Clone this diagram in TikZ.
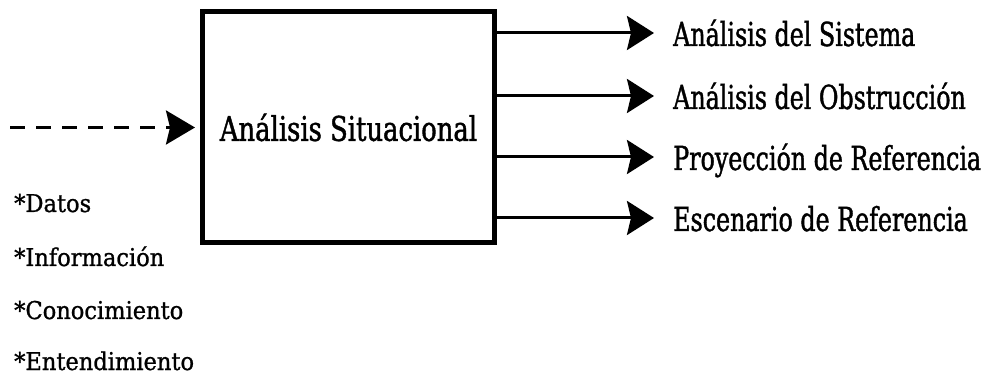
\documentclass[tikz,border=0pt]{standalone}
\usepackage{fontspec}
\setmainfont{DejaVu Serif}[FakeStretch=0.76,FakeBold=1.2]
\newfontfamily\outfont{DejaVu Serif}[FakeStretch=0.72,FakeBold=1.2]
\newfontfamily\infont{DejaVu Serif}[FakeStretch=0.92,FakeBold=1]
\usepackage{tikz}
\usetikzlibrary{arrows.meta}
\usetikzlibrary{positioning}

\begin{document}
\begin{tikzpicture}[x=1pt,y=-1pt,
  flow/.style={line width=3pt,-{Stealth[length=27pt,width=34pt,inset=4pt]}},
  outlabel/.style={anchor=base west,inner sep=0pt,font=\outfont\fontsize{33}{36}\selectfont},
  inlabel/.style={anchor=base west,inner sep=0pt,font=\infont\fontsize{24.5}{27}\selectfont}]
\useasboundingbox (0,0) rectangle (985,379);
% central box
\node[draw,line width=5pt,minimum width=292pt,minimum height=231pt,
  font=\fontsize{34}{36}\selectfont] (situ) at (348.5,127.5) {Análisis Situacional};
% input
\coordinate (inp) at (10,127.5);
\draw[line width=3pt,dash pattern=on 15pt off 11pt,
  -{Stealth[length=29pt,width=34pt,inset=4pt]}] (inp) -- ([xshift=-5pt]situ.west);
\node[inlabel] (datos) at (14,212) {*Datos};
\node[inlabel] (info) at (14,266) {*Información};
\node[inlabel] (conoc) at (14,319) {*Conocimiento};
\node[inlabel] (enten) at (14,370) {*Entendimiento};
% outputs
\node[outlabel] (sist) at (673,46) {Análisis del Sistema};
\node[outlabel] (obst) at (673,109) {Análisis del Obstrucción};
\node[outlabel] (proy) at (673,170) {Proyección de Referencia};
\node[outlabel] (esce) at (673,231) {Escenario de Referencia};
\foreach \n in {sist,obst,proy,esce}{
  \coordinate (\n-tip) at ([shift={(-19,-13)}]\n.base west);
  \draw[flow] (situ.east |- \n-tip) -- (\n-tip);
}
\end{tikzpicture}
\end{document}
